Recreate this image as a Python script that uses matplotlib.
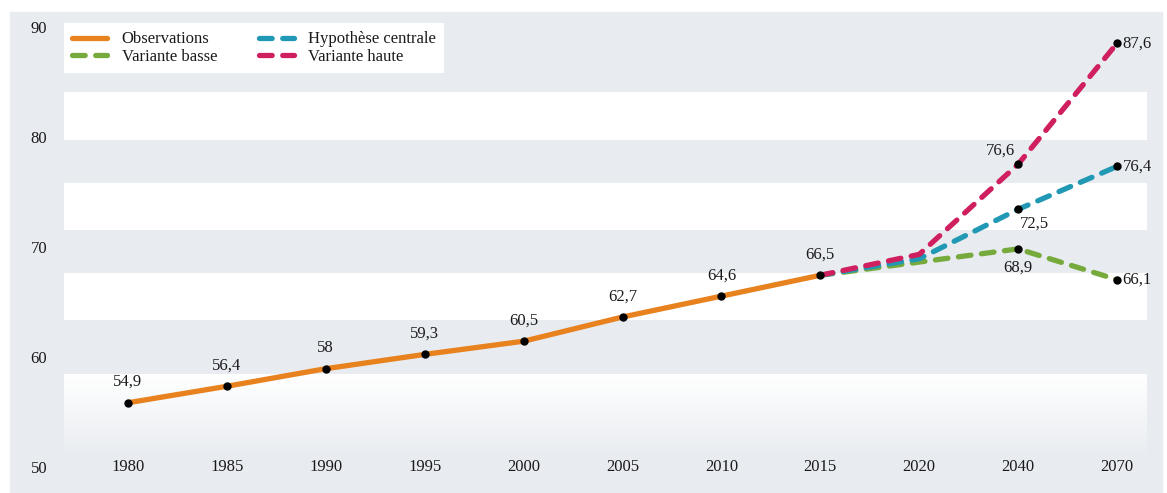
import matplotlib
matplotlib.use("Agg")
import matplotlib.pyplot as plt
import numpy as np
from matplotlib.patches import Rectangle
from matplotlib.transforms import ScaledTranslation
from matplotlib.colors import LinearSegmentedColormap

# ---- data ----
years = ['1980', '1985', '1990', '1995', '2000', '2005', '2010', '2015', '2020', '2040', '2070']
obs_values = [54.9, 56.4, 58, 59.3, 60.5, 62.7, 64.6, 66.5]
central_values = [66.5, 68.0, 72.5, 76.4]
low_values = [66.5, 67.7, 68.9, 66.1]
high_values = [66.5, 68.4, 76.6, 87.6]
y_ticks = [50, 60, 70, 80, 90]

# ---- style ----
GRAY = '#e8ebf0'
C_OBS = '#e8821f'
C_CEN = '#2199b4'
C_LOW = '#77aa3c'
C_HIGH = '#cf1f5e'
TXT = '#1a1a1a'
FONT = ['Liberation Serif', 'DejaVu Serif']
plt.rcParams['font.family'] = FONT

W, H = 1167, 493
fig = plt.figure(figsize=(W / 100, H / 100), dpi=100)
fig.patch.set_facecolor('white')
fig.patches.append(Rectangle((10 / W, 0), 1152 / W, (H - 12) / H,
                             transform=fig.transFigure, color=GRAY, zorder=-10))

ax_left, ax_right, ax_top, ax_bot = 64, 1147, 17, 458.8
ax = fig.add_axes([ax_left / W, (H - ax_bot) / H, (ax_right - ax_left) / W, (ax_bot - ax_top) / H])
ax.set_zorder(1)
ax.set_facecolor('none')
for s in ax.spines.values():
    s.set_visible(False)

step = (1117 - 128) / 10
xlim = ((ax_left - 128) / step, 10 + (ax_right - 1117) / step)

# background bands
for lo, hi in [(78.8, 83.2), (70.6, 74.9), (62.4, 66.7)]:
    ax.axhspan(lo, hi, color='white', zorder=0.5, lw=0)
grad = np.linspace(0, 1, 256).reshape(-1, 1)
cmap = LinearSegmentedColormap.from_list('g', ['white', '#f4f6f8', GRAY])
ax.imshow(grad, extent=[xlim[0], xlim[1], 49.9, 57.5], cmap=cmap, aspect='auto',
          origin='upper', zorder=0.5, interpolation='bilinear')
ax.set_xlim(*xlim)
ax.set_ylim(49.8, 90)

x_obs = np.arange(len(obs_values))
x_proj = np.arange(7, 7 + len(central_values))

lw = 3.8
dash = (2.4, 2.0)
ax.plot(x_obs, obs_values, color=C_OBS, lw=lw, solid_capstyle='round', zorder=3, label='Observations')
l_low, = ax.plot(x_proj, low_values, color=C_LOW, lw=lw, dashes=dash, dash_capstyle='round', zorder=3.1, label='Variante basse')
l_cen, = ax.plot(x_proj, central_values, color=C_CEN, lw=lw, dashes=dash, dash_capstyle='round', zorder=3.2, label='Hypothèse centrale')
l_high, = ax.plot(x_proj, high_values, color=C_HIGH, lw=lw, dashes=dash, dash_capstyle='round', zorder=3.3, label='Variante haute')

# markers
ms = 5
ax.plot(x_obs, obs_values, ls='none', marker='o', ms=ms, color='black', zorder=5)
for vals in (low_values, central_values, high_values):
    ax.plot(x_proj[2:], vals[2:], ls='none', marker='o', ms=ms, color='black', zorder=5)


def fmt(v):
    return f"{v:g}".replace('.', ',')


FS = 12
for xi, v in zip(x_obs, obs_values):
    ax.annotate(fmt(v), (xi, v), xytext=(0, 15), textcoords='offset points',
                ha='center', va='center', fontsize=FS, color=TXT, zorder=6)

# projection labels (2040, 2070)
ax.annotate(fmt(high_values[2]), (x_proj[2], high_values[2]), xytext=(-2, 9.5), textcoords='offset points',
            ha='right', va='center', fontsize=FS, color=TXT, zorder=6)
ax.annotate(fmt(central_values[2]), (x_proj[2], central_values[2]), xytext=(1, -10), textcoords='offset points',
            ha='left', va='center', fontsize=FS, color=TXT, zorder=6)
ax.annotate(fmt(low_values[2]), (x_proj[2], low_values[2]), xytext=(0, -13.5), textcoords='offset points',
            ha='center', va='center', fontsize=FS, color=TXT, zorder=6)
for vals in (low_values, central_values, high_values):
    ax.annotate(fmt(vals[3]), (x_proj[3], vals[3]), xytext=(4, 0), textcoords='offset points',
                ha='left', va='center', fontsize=FS, color=TXT, zorder=6)

# ticks
ax.set_xticks(range(len(years)))
ax.set_xticklabels(years, fontsize=FS, color=TXT)
ax.set_yticks(y_ticks)
ax.set_yticklabels([str(t) for t in y_ticks], fontsize=FS, color=TXT)
ax.tick_params(axis='both', length=0)
ax.tick_params(axis='y', pad=12)
ax.tick_params(axis='x', pad=0)
shift = ScaledTranslation(0, -10 / 100, fig.dpi_scale_trans)
for lab in ax.get_yticklabels():
    lab.set_transform(lab.get_transform() + shift)

# legend
handles = [ax.lines[0], l_low, l_cen, l_high]
leg = ax.legend(handles=handles, labels=[h.get_label() for h in handles], ncol=2,
                loc='upper left', bbox_to_anchor=(0, 1 - 6 / (ax_bot - ax_top)), borderaxespad=0,
                frameon=True, fancybox=False, facecolor='white', edgecolor='none', framealpha=1,
                fontsize=12, handlelength=2.1, handletextpad=0.85, columnspacing=2.5,
                labelspacing=0.1, borderpad=0.5)
leg.set_zorder(7)
for t in leg.get_texts():
    t.set_color(TXT)

fig.savefig('out.png', dpi=100, facecolor=fig.get_facecolor())
